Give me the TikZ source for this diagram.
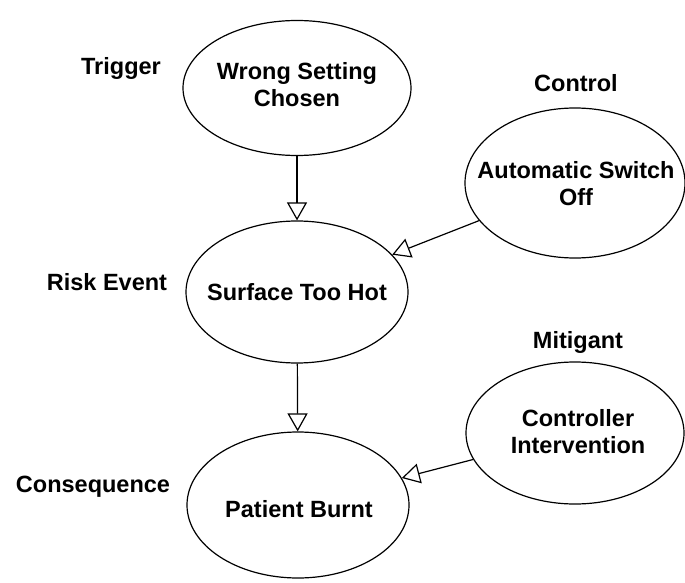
\documentclass[tikz,border=0pt]{standalone}
\usepackage{fontspec}
\setmainfont{Liberation Sans}
\usetikzlibrary{shapes.geometric,arrows.meta}
\begin{document}
\begin{tikzpicture}[x=1pt,y=-1pt,
  oval/.style={ellipse,draw=black,line width=1.2pt,inner sep=0pt,fill=white},
  txt/.style={font=\fontsize{23.5}{27}\selectfont\bfseries,align=center,inner sep=0pt},
  tag/.style={font=\fontsize{23.5}{27}\selectfont\bfseries,inner sep=0pt,anchor=base},
  flow/.style={draw=black,line width=1.2pt,-{Triangle[open,length=18pt,width=20pt,line width=1.2pt]}}]
  \useasboundingbox (0,0) rectangle (685,583);

  % event ovals
  \node[oval,minimum width=228pt,minimum height=135pt] (trig) at (297,88) {};
  \node[oval,minimum width=220pt,minimum height=150pt] (ctrl) at (575,183) {};
  \node[oval,minimum width=222pt,minimum height=142pt] (risk) at (297,292) {};
  \node[oval,minimum width=218pt,minimum height=142pt] (miti) at (575,433) {};
  \node[oval,minimum width=222pt,minimum height=146pt] (cons) at (298,505) {};

  % oval texts
  \node[txt] (trigT) at (297,85) {Wrong Setting\\Chosen};
  \node[txt] (ctrlT) at (576,184) {Automatic Switch\\Off};
  \node[tag] (riskT) at (297,300) {Surface Too Hot};
  \node[txt] (mitiT) at (578,432) {Controller\\Intervention};
  \node[tag] (consT) at (299,517) {Patient Burnt};

  % side captions
  \node[tag] (capTrig) at (121,75) {Trigger};
  \node[tag] (capCtrl) at (576,92) {Control};
  \node[tag] (capRisk) at (107,290) {Risk Event};
  \node[tag] (capMiti) at (578,348) {Mitigant};
  \node[tag] (capCons) at (93,492) {Consequence};

  % connectors
  \draw[flow] (trig) -- (risk);
  \draw[flow] (ctrl) -- (risk);
  \draw[flow] (risk) -- (cons);
  \draw[flow] (miti) -- (cons);
\end{tikzpicture}
\end{document}
